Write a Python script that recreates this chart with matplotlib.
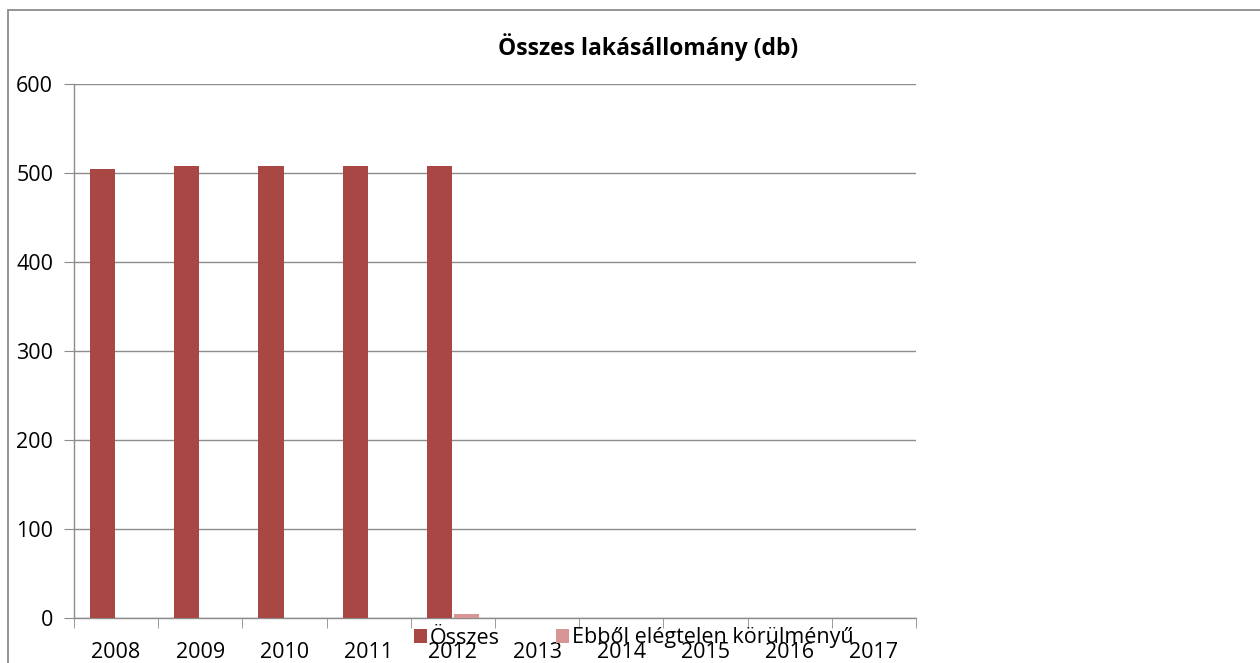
import matplotlib
matplotlib.use("Agg")
import matplotlib.pyplot as plt
from matplotlib.patches import Rectangle
import numpy as np

years = ["2008", "2009", "2010", "2011", "2012", "2013", "2014", "2015", "2016", "2017"]
osszes = [505, 508, 508, 508, 508, 0, 0, 0, 0, 0]
elegtelen = [0, 0, 0, 0, 5, 0, 0, 0, 0, 0]
series_names = ["Összes", "Ebből elégtelen körülményű"]
title = "Összes lakásállomány (db)"
yticks = [0, 100, 200, 300, 400, 500, 600]

plt.rcParams['font.family'] = ['Open Sans', 'DejaVu Sans']

fig = plt.figure(figsize=(12.6, 6.63), dpi=100)
fig.patches.append(Rectangle((8/1260, -0.1), 1.2, 1.1 - 10/663, transform=fig.transFigure,
                             fill=False, edgecolor="#8c8c8c", linewidth=1.3, zorder=0))

ax = fig.add_axes([74/1260, 1 - 618/663, (916 - 74)/1260, (618 - 84)/663])
x = np.arange(len(years))
w = 0.3
ax.bar(x - w/2 - 0.01, osszes, width=w, color="#A94744", label=series_names[0], zorder=3)
ax.bar(x + w/2 + 0.01, elegtelen, width=w, color="#D79594", label=series_names[1], zorder=3)

ax.set_xlim(-0.5, len(years) - 0.5)
ax.set_ylim(0, 600)
ax.set_yticks(yticks)
ax.set_yticklabels([str(v) for v in yticks], fontsize=15.5)
ax.set_xticks(x)
ax.set_xticklabels(years, fontsize=15.5)
ax.tick_params(axis='x', which='major', length=0, pad=17)
ax.set_xticks(np.arange(-0.5, len(years) + 0.5, 1), minor=True)
ax.tick_params(axis='x', which='minor', length=7, color="#8c8c8c")
ax.tick_params(axis='y', length=7, color="#8c8c8c", pad=8)
ax.yaxis.grid(True, color="#8c8c8c", linewidth=1)
ax.set_axisbelow(True)
for s in ["top", "right"]:
    ax.spines[s].set_visible(False)
for s in ["left", "bottom"]:
    ax.spines[s].set_color("#8c8c8c")
    ax.spines[s].set_linewidth(1)

fig.text(648/1260, 1 - 47/663, title, ha="center", va="center", fontsize=16.5, fontweight="bold")

fig.legend(loc="center", bbox_to_anchor=(634/1260, 1 - 638/663), ncol=2, frameon=False,
           fontsize=15.5, handlelength=0.6, handleheight=0.6, handletextpad=0.15,
           columnspacing=2.6, borderpad=0)

fig.savefig("out.png", dpi=100)
